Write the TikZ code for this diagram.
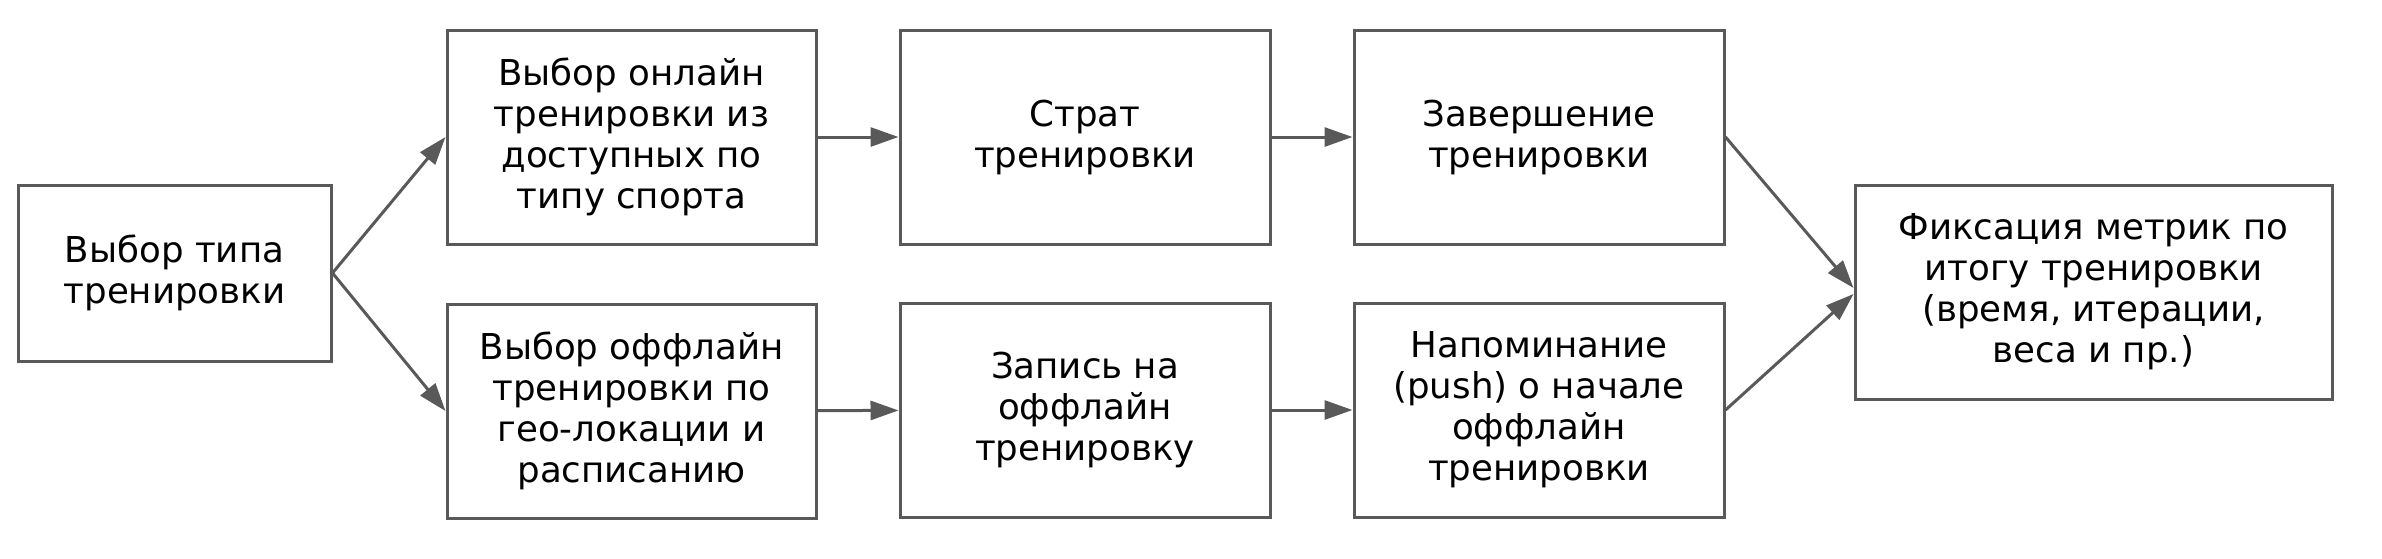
\documentclass[tikz,border=0pt]{standalone}
\usepackage{fontspec}
\setmainfont{DejaVu Sans}
\usetikzlibrary{arrows.meta}
\definecolor{edgegray}{HTML}{595959}

\begin{document}
\begin{tikzpicture}[x=0.5pt, y=-0.5pt,
  box/.style={draw=edgegray, line width=1.5pt, align=center, inner sep=0pt,
    minimum width=185pt, minimum height=107pt,
    font=\fontsize{17.8}{20.5}\selectfont},
  flow/.style={draw=edgegray, line width=1.5pt,
    -{Triangle[length=14pt, width=9.5pt]}}]
  % Draw the canvas
  \useasboundingbox (0,0) rectangle (2382,558);

  \node[box, minimum width=156.5pt, minimum height=88pt] (choice) at (174.5,273) {Выбор типа\\тренировки};
  \node[box, minimum width=184.5pt] (online) at (631.5,137) {Выбор онлайн\\тренировки из\\доступных по\\типу спорта};
  \node[box, minimum width=184.5pt] (offline) at (631.5,411) {Выбор оффлайн\\тренировки по\\гео-локации и\\расписанию};
  \node[box] (start) at (1085,137) {Страт\\тренировки};
  \node[box] (signup) at (1085,410) {Запись на\\оффлайн\\тренировку};
  \node[box] (finish) at (1539,137) {Завершение\\тренировки};
  \node[box] (remind) at (1539,410) {Напоминание\\(push) о начале\\оффлайн\\тренировки};
  \node[box, minimum width=238.5pt] (metrics) at (2093.5,292) {Фиксация метрик по\\итогу тренировки\\(время, итерации,\\веса и пр.)};

  % Draw the arrows
  \draw[flow] (choice.east) -- (online.west);
  \draw[flow] (choice.east) -- (offline.west);
  \draw[flow] (online) -- (start);
  \draw[flow] (offline) -- (signup);
  \draw[flow] (start) -- (finish);
  \draw[flow] (signup) -- (remind);
  \draw[flow] (finish.east) -- ([yshift=2pt]metrics.west);
  \draw[flow] (remind.east) -- ([yshift=-1pt]metrics.west);
\end{tikzpicture}
\end{document}
